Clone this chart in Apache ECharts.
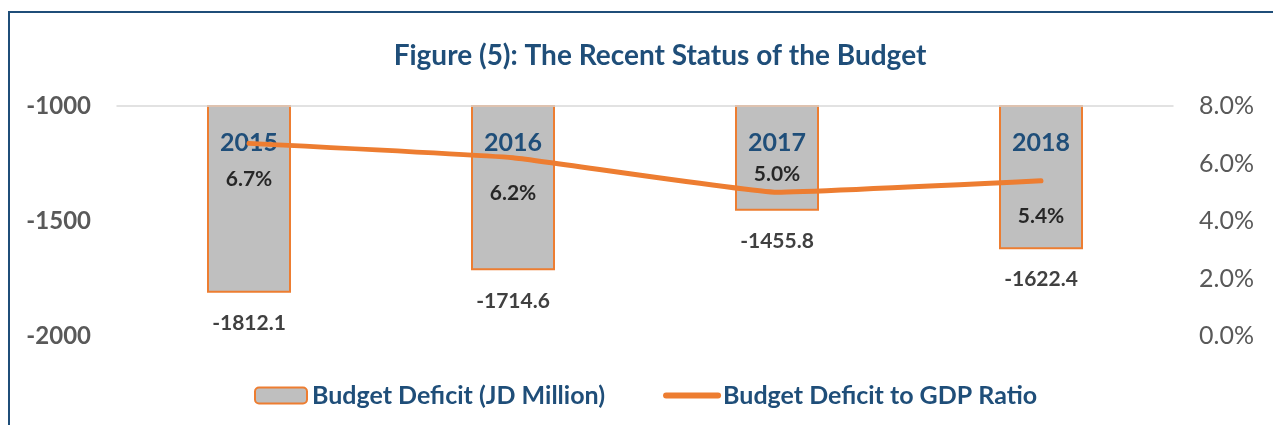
<!DOCTYPE html>
<html>
<head>
<meta charset="utf-8">
<script src="https://cdn.jsdelivr.net/npm/echarts@6/dist/echarts.min.js"></script>
<style>
  html, body { margin: 0; padding: 0; background: #fff; }
  #chart { width: 1273px; height: 425px; }
</style>
</head>
<body>
<div id="chart"></div>
<script>
const years = ['2015', '2016', '2017', '2018'];
const deficit = [-1812.1, -1714.6, -1455.8, -1622.4];
const gdpRatio = [6.7, 6.2, 5.0, 5.4];
// where each ratio label sits relative to its point
const ratioLabelPos = ['bottom', 'bottom', 'top', 'bottom'];

const FONT = 'Lato';
const BLUE = '#1F4E79';
const ORANGE = '#ED7D31';

const chart = echarts.init(document.getElementById('chart'));

const option = {
    animation: false,
    textStyle: { fontFamily: FONT },
    title: {
        text: 'Figure (5): The Recent Status of the Budget',
        left: 655,
        textAlign: 'center',
        top: 37,
        textStyle: { color: BLUE, fontSize: 28, fontWeight: 'bold', fontFamily: FONT }
    },
    legend: {
        bottom: 12,
        left: 249,
        itemWidth: 52,
        itemHeight: 16,
        itemGap: 58,
        textStyle: { color: BLUE, fontSize: 25, fontWeight: 'bold', fontFamily: FONT },
        data: [
            { name: 'Budget Deficit (JD Million)' },
            {
                name: 'Budget Deficit to GDP Ratio',
                lineStyle: { width: 6, cap: 'round' },
                itemStyle: { opacity: 0 }
            }
        ]
    },
    grid: { left: 117, right: 100, top: 106, bottom: 89 },
    xAxis: {
        type: 'category',
        data: years,
        position: 'top',
        z: 2,
        axisLine: { onZero: false, lineStyle: { color: '#D9D9D9', width: 1.5 } },
        axisTick: { show: false },
        axisLabel: {
            inside: true,
            margin: 37,
            verticalAlign: 'middle',
            color: BLUE,
            fontSize: 25,
            fontWeight: 'bold',
            fontFamily: FONT
        }
    },
    yAxis: [
        {
            type: 'value',
            min: -2000,
            max: -1000,
            interval: 500,
            splitLine: { show: false },
            axisLine: { show: false },
            axisTick: { show: false },
            axisLabel: {
                margin: 26,
                color: '#595959',
                fontSize: 24,
                fontWeight: 'bold',
                fontFamily: FONT,
                formatter: v => String(v)
            }
        },
        {
            type: 'value',
            min: 0,
            max: 8,
            interval: 2,
            splitLine: { show: false },
            axisLine: { show: false },
            axisTick: { show: false },
            axisLabel: {
                margin: 26,
                color: '#595959',
                fontSize: 25,
                fontFamily: FONT,
                formatter: v => v.toFixed(1) + '%'
            }
        }
    ],
    series: [
        {
            name: 'Budget Deficit (JD Million)',
            type: 'bar',
            z: 1,
            data: deficit,
            barWidth: 84,
            itemStyle: { color: '#BFBFBF', borderColor: ORANGE, borderWidth: 2 },
            label: {
                show: true,
                position: 'bottom',
                distance: 20,
                color: '#404040',
                fontSize: 21,
                fontWeight: 'bold',
                fontFamily: FONT,
                formatter: p => p.value.toFixed(1)
            }
        },
        {
            name: 'Budget Deficit to GDP Ratio',
            type: 'line',
            yAxisIndex: 1,
            z: 3,
            smooth: 0.1,
            symbol: 'none',
            data: gdpRatio,
            lineStyle: { color: ORANGE, width: 5, cap: 'round' },
            itemStyle: { color: ORANGE }
        },
        {
            // carries the ratio labels only
            name: 'ratio labels',
            type: 'scatter',
            yAxisIndex: 1,
            z: 4,
            symbolSize: 0,
            silent: true,
            data: gdpRatio.map((v, i) => ({
                value: v,
                label: {
                    position: ratioLabelPos[i],
                    distance: ratioLabelPos[i] === 'top' ? 8 : 25
                }
            })),
            label: {
                show: true,
                color: '#000',
                fontSize: 21,
                fontWeight: 'bold',
                fontFamily: FONT,
                formatter: p => p.value.toFixed(1) + '%'
            }
        }
    ],
    graphic: [
        {
            type: 'rect',
            shape: { x: 9, y: 12, width: 1300, height: 500 },
            style: { fill: 'none', stroke: BLUE, lineWidth: 2 },
            silent: true,
            z: -1
        }
    ]
};

chart.setOption(option);
</script>
</body>
</html>
